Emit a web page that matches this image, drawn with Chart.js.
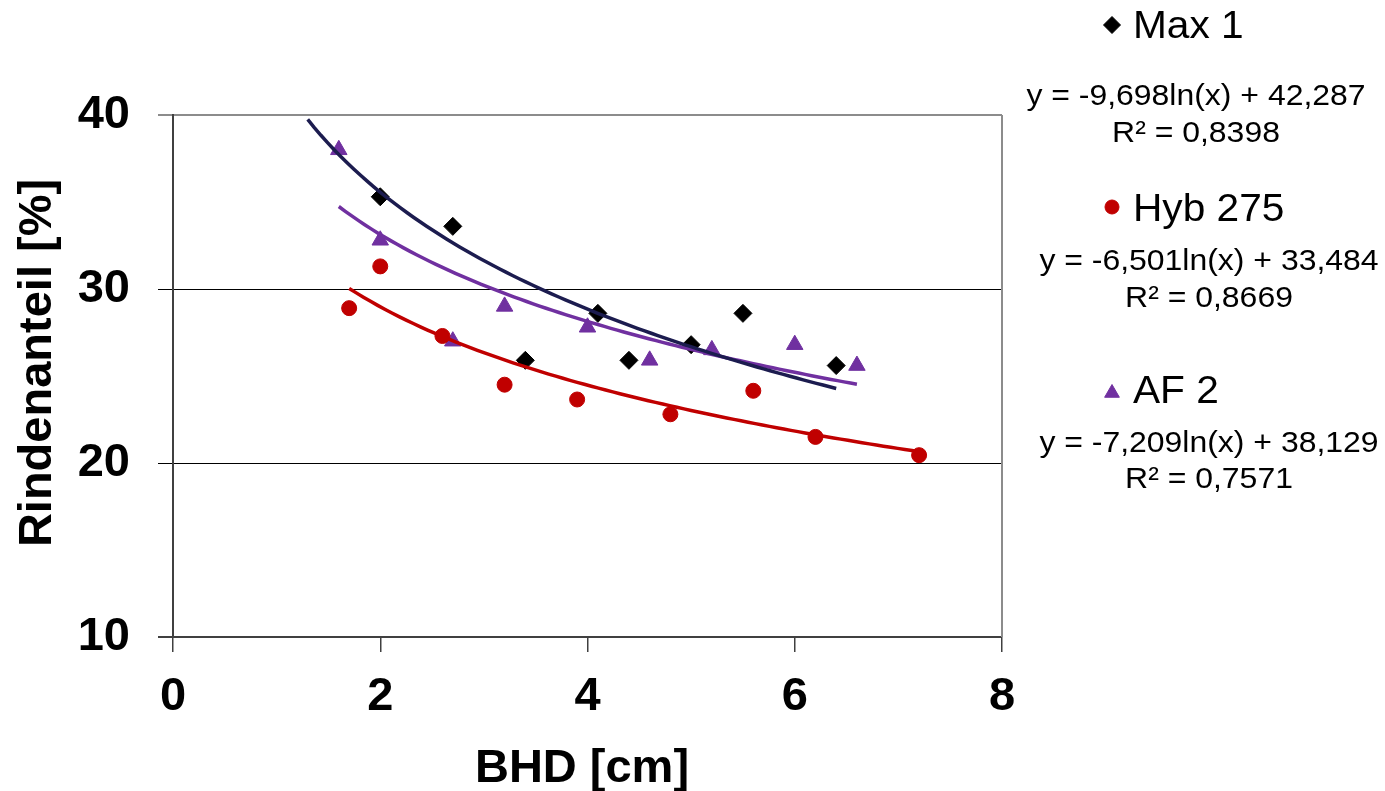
<!DOCTYPE html>
<html lang="de">
<head>
  <meta charset="UTF-8">
  <title>Rindenanteil vs BHD</title>
  <script src="https://cdn.jsdelivr.net/npm/chart.js"></script>
  <style>
    html, body { margin: 0; padding: 0; background: #fff; }
    #wrap { width: 1385px; height: 791px; }
  </style>
</head>
<body>
  <div id="wrap"><canvas id="chart" width="1385" height="791"></canvas></div>

  <script>
    // measured points (BHD in cm, Rindenanteil in %)
    const max1X = [2.0, 2.7, 3.4, 4.1, 4.4, 5.0, 5.5, 6.4];
    const max1Y = [35.3, 33.6, 25.9, 28.6, 25.9, 26.8, 28.6, 25.6];
    const hybX = [1.7, 2.0, 2.6, 3.2, 3.9, 4.8, 5.6, 6.2, 7.2];
    const hybY = [28.9, 31.3, 27.3, 24.5, 23.65, 22.8, 24.15, 21.5, 20.45];
    const afX = [1.6, 2.0, 2.7, 3.2, 4.0, 4.6, 5.2, 6.0, 6.6];
    const afY = [38.0, 32.8, 27.0, 29.0, 27.8, 25.9, 26.5, 26.8, 25.6];

    // log trendlines as printed on the chart: y = a*ln(x) + b, drawn over [from, to]
    const max1Trend = [-9.698, 42.287];
    const hybTrend = [-6.501, 33.484];
    const afTrend = [-7.209, 38.129];
    const max1Range = [1.3, 6.4];
    const hybRange = [1.7, 7.2];
    const afRange = [1.6, 6.6];

    const seriesNames = ['Max 1', 'Hyb 275', 'AF 2'];
    const equations = ['y = -9,698ln(x) + 42,287', 'y = -6,501ln(x) + 33,484', 'y = -7,209ln(x) + 38,129'];
    const rSquared = ['R² = 0,8398', 'R² = 0,8669', 'R² = 0,7571'];

    const xTicks = [0, 2, 4, 6, 8];
    const yTicks = [10, 20, 30, 40];
    const xTitle = 'BHD [cm]';
    const yTitle = 'Rindenanteil [%]';

    const FONT = "'Liberation Sans', Arial, sans-serif";

    function toPoints(xs, ys) {
      return xs.map((x, i) => ({ x: x, y: ys[i] }));
    }

    function trendPoints(coef, range) {
      const pts = [];
      const n = 80;
      for (let i = 0; i <= n; i++) {
        const x = range[0] + (range[1] - range[0]) * i / n;
        pts.push({ x: x, y: coef[0] * Math.log(x) + coef[1] });
      }
      return pts;
    }

    // text with a bit of horizontal stretch, like the original export
    function drawText(ctx, text, x, y, font, sx, align, rot) {
      ctx.save();
      ctx.translate(x, y);
      if (rot) ctx.rotate(rot);
      ctx.scale(sx, 1);
      ctx.font = font;
      ctx.textAlign = align;
      ctx.textBaseline = 'alphabetic';
      ctx.fillStyle = '#000';
      ctx.fillText(text, 0, 0);
      ctx.restore();
    }

    // axis titles, legend + equations on the right, grey right frame line
    const sideLegend = {
      id: 'sideLegend',
      afterDraw(chart) {
        const ctx = chart.ctx;
        const a = chart.chartArea;
        ctx.save();
        ctx.strokeStyle = '#8c8c8c';
        ctx.lineWidth = 2;
        ctx.beginPath();
        ctx.moveTo(a.right, a.top);
        ctx.lineTo(a.right, a.bottom);
        ctx.stroke();
        ctx.restore();

        drawText(ctx, xTitle, 582, 782, 'bold 47px ' + FONT, 1, 'center');
        drawText(ctx, yTitle, 51, 363, 'bold 47px ' + FONT, 1, 'center', -Math.PI / 2);

        const rows = [
          { nameY: 38, eqY: 105, rY: 142, eqX: 1196, style: 'rectRot', color: '#000000', my: 25 },
          { nameY: 221, eqY: 270, rY: 307, eqX: 1209, style: 'circle', color: '#C00000', my: 207 },
          { nameY: 403, eqY: 452, rY: 488, eqX: 1209, style: 'triangle', color: '#7030A0', my: 393 }
        ];
        rows.forEach((r, i) => {
          ctx.save();
          ctx.fillStyle = r.color;
          ctx.strokeStyle = r.color;
          ctx.lineWidth = 1;
          Chart.helpers.drawPoint(ctx, {
            pointStyle: r.style, radius: r.style === 'circle' ? 7 : 8.5, rotation: 0, borderWidth: 1
          }, 1112, r.my);
          ctx.restore();
          drawText(ctx, seriesNames[i], 1133, r.nameY, '38px ' + FONT, 1.07, 'left');
          drawText(ctx, equations[i], r.eqX, r.eqY, '30px ' + FONT, 1.065, 'center');
          drawText(ctx, rSquared[i], r.eqX, r.rY, '30px ' + FONT, 1.065, 'center');
        });
      }
    };

    new Chart(document.getElementById('chart'), {
      type: 'scatter',
      data: {
        datasets: [
          {
            label: 'Max 1 trend', type: 'line', data: trendPoints(max1Trend, max1Range),
            borderColor: '#1c1c4f', borderWidth: 3.5, pointRadius: 0, fill: false, order: 0
          },
          {
            label: 'Hyb 275 trend', type: 'line', data: trendPoints(hybTrend, hybRange),
            borderColor: '#C00000', borderWidth: 3.5, pointRadius: 0, fill: false, order: 0
          },
          {
            label: 'AF 2 trend', type: 'line', data: trendPoints(afTrend, afRange),
            borderColor: '#7030A0', borderWidth: 3.5, pointRadius: 0, fill: false, order: 0
          },
          {
            label: seriesNames[0], data: toPoints(max1X, max1Y), pointStyle: 'rectRot',
            pointRadius: 9, backgroundColor: '#000000', borderColor: '#000000', borderWidth: 1, order: 1
          },
          {
            label: seriesNames[1], data: toPoints(hybX, hybY), pointStyle: 'circle',
            pointRadius: 7.5, backgroundColor: '#C00000', borderColor: '#C00000', borderWidth: 1, order: 1
          },
          {
            label: seriesNames[2], data: toPoints(afX, afY), pointStyle: 'triangle',
            pointRadius: 9.5, backgroundColor: '#7030A0', borderColor: '#7030A0', borderWidth: 1, order: 1
          }
        ]
      },
      options: {
        responsive: false,
        animation: false,
        layout: { padding: { left: 0, top: 115, right: 383, bottom: 0 } },
        plugins: {
          legend: { display: false },
          tooltip: { enabled: false }
        },
        scales: {
          x: {
            type: 'linear', min: 0, max: 8,
            afterBuildTicks: (s) => { s.ticks = xTicks.map(v => ({ value: v })); },
            afterFit: (s) => { s.height = 154; },
            grid: { drawOnChartArea: false, tickLength: 15, color: '#404040', lineWidth: 1.5 },
            border: { color: '#404040', width: 2 },
            ticks: { color: '#000', padding: 17, font: { family: FONT, size: 47, weight: 'bold' } }
          },
          y: {
            type: 'linear', min: 10, max: 40,
            afterBuildTicks: (s) => { s.ticks = yTicks.map(v => ({ value: v })); },
            afterFit: (s) => { s.width = 173; },
            grid: {
              tickLength: 15,
              color: (c) => (c.tick && c.tick.value === 40) ? '#8c8c8c' : (c.tick && c.tick.value === 10 ? '#404040' : '#000000'),
              lineWidth: (c) => (c.tick && (c.tick.value === 40 || c.tick.value === 10)) ? 2 : 1
            },
            border: { color: '#404040', width: 2 },
            ticks: { color: '#000', padding: 28, font: { family: FONT, size: 47, weight: 'bold' } }
          }
        }
      },
      plugins: [sideLegend]
    });
  </script>
</body>
</html>
